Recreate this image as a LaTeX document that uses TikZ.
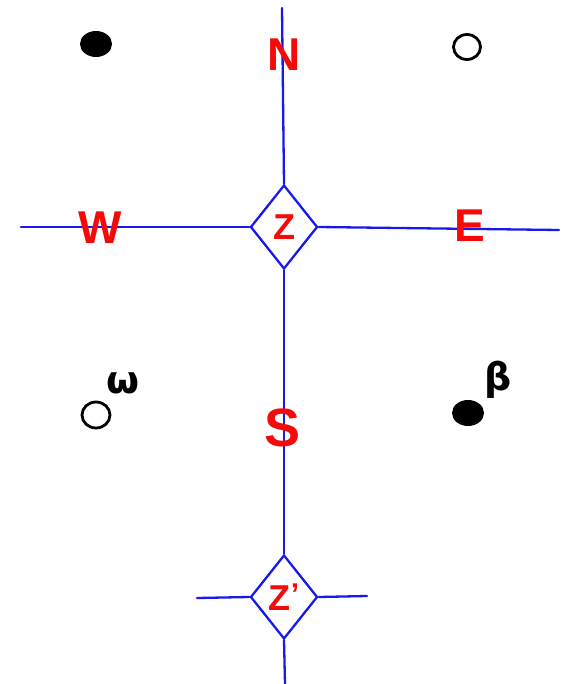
\documentclass[tikz,border=0pt]{standalone}
\usepackage{fontspec}
\setmainfont{Liberation Sans}
\newfontfamily\greek{DejaVu Sans}
\usetikzlibrary{shapes.geometric}
\definecolor{pen}{RGB}{25,25,235}
\definecolor{ink}{RGB}{245,10,10}
\begin{document}
\begin{tikzpicture}[x=1pt,y=-1pt,
 wire/.style={draw=pen, line width=2.3pt, line cap=round},
 cell/.style={diamond, draw=pen, line width=2.3pt, minimum width=67pt, minimum height=84pt, inner sep=0pt, text=ink, font=\bfseries\fontsize{36}{36}\selectfont},
 letter/.style={text=ink, font=\bfseries\fontsize{46}{46}\selectfont, inner sep=0pt},
 fulldot/.style={ellipse, fill=black, minimum width=32pt, minimum height=26pt, inner sep=0pt},
 opendot/.style={ellipse, draw=black, line width=2.8pt, minimum width=27pt, minimum height=25pt, inner sep=0pt},
 tag/.style={font=\greek\bfseries\fontsize{38}{38}\selectfont, inner sep=0pt}
]
\useasboundingbox (0,0) rectangle (571,684);
% cells
\node[cell] (z) at (284,227) {Z};
\node[cell] (zp) at (284,597) {Z\raisebox{6pt}{\fontsize{30}{30}\selectfont'}};
% free ends
\coordinate (ntop) at (282,8);
\coordinate (wend) at (21,227);
\coordinate (eend) at (559,230);
\coordinate (zpw) at (197,598);
\coordinate (zpe) at (367,596);
\coordinate (zps) at (285,684);
% connectors
\draw[wire] (z.north) -- (ntop);
\draw[wire] (z.west) -- (wend);
\draw[wire] (z.east) -- (eend);
\draw[wire] (z.south) -- (zp.north);
\draw[wire] (zp.west) -- (zpw);
\draw[wire] (zp.east) -- (zpe);
\draw[wire] (zp.south) -- (zps);
% direction letters
\node[letter] (n) at (284,55) {N};
\node[letter] (w) at (100,228) {W};
\node[letter] (e) at (470,226) {E};
\node[letter, font=\bfseries\fontsize{54}{54}\selectfont] (s) at (283,428) {S};
% dots
\node[fulldot] (d1) at (96,44) {};
\node[opendot] (d2) at (467,47) {};
\node[opendot, minimum width=28pt, minimum height=26pt] (d3) at (96,415) {};
\node[fulldot] (d4) at (468,413) {};
% tags
\node[tag] (omega) at (123,383) {ω};
\node[tag] (beta) at (498,380) {β};
\end{tikzpicture}
\end{document}
